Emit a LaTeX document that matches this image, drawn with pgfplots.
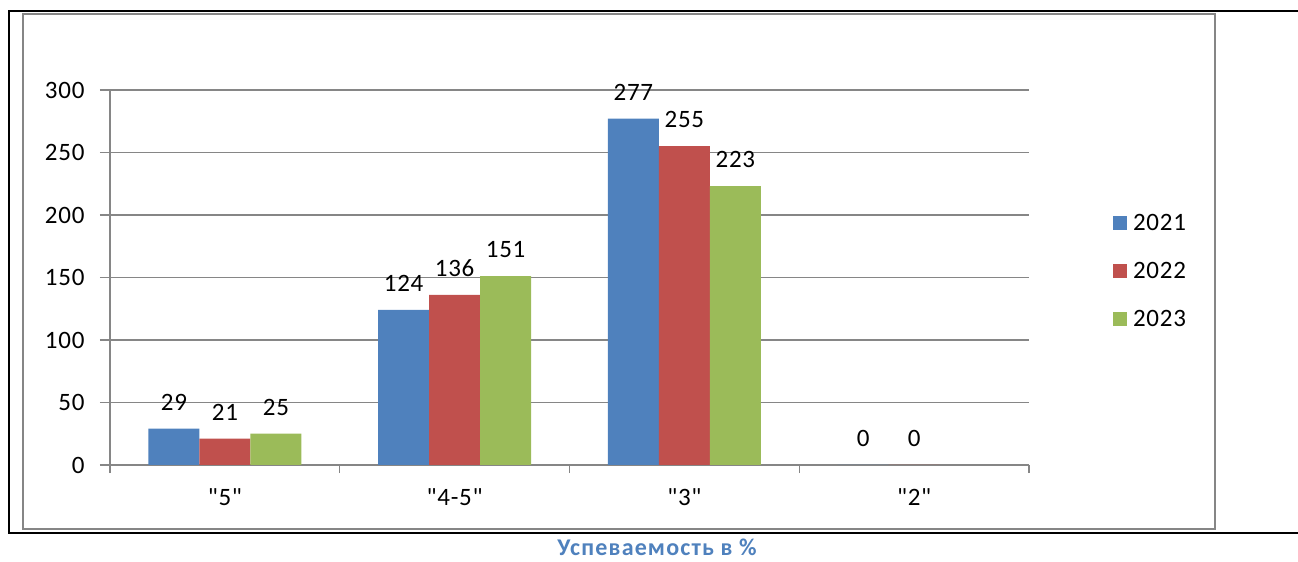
\documentclass[border=0pt]{standalone}
\usepackage{fontspec}
\setmainfont{Carlito}[Ligatures=TeXOff, LetterSpace=3]
\usepackage{pgfplots}
\pgfplotsset{compat=1.18}

\definecolor{c21}{RGB}{79,129,189}
\definecolor{c22}{RGB}{192,80,77}
\definecolor{c23}{RGB}{155,187,89}
\definecolor{axgray}{RGB}{134,134,134}

\pgfplotsset{sqleg/.style={legend image code/.code={\fill[##1] (0pt,-7pt) rectangle (14pt,7pt);}}}

\begin{document}
\begin{tikzpicture}[x=1pt,y=1pt]
\useasboundingbox (0,0) rectangle (1298,562);
% outer frame (open on the right) and grey chart area
\draw[line width=2.5pt] (1298,551) -- (9,551) -- (9,29) -- (1298,29);
\draw[axgray, line width=2pt] (23,548) rectangle (1215,33);
\begin{axis}[
  at={(110pt,97pt)}, anchor=south west,
  scale only axis, width=919pt, height=375pt,
  xmin=-0.5, xmax=3.5, ymin=0, ymax=300,
  ybar=0pt, bar width=51pt,
  axis x line=bottom, axis y line=left,
  axis line style={-, axgray, line width=1.3pt},
  ytick={0,50,...,300},
  ymajorgrids, grid style={axgray, line width=1.3pt},
  xtick={0,1,2,3},
  xticklabels={{"5"},{"4-5"},{"3"},{"2"}},
  minor xtick={-0.5,0.5,1.5,2.5,3.5},
  tick align=outside,
  major tick length=10pt, minor tick length=8pt,
  major x tick style={draw=none},
  minor x tick style={axgray, line width=1.3pt},
  major y tick style={axgray, line width=1.3pt},
  tick label style={font=\fontsize{25}{30}\selectfont, text=black},
  yticklabel style={xshift=-12pt},
  xticklabel style={yshift=-10pt},
  /pgf/number format/assume math mode=true,
  nodes near coords,
  every node near coord/.append style={font=\fontsize{25}{30}\selectfont, text=black, yshift=15pt},
  legend style={at={(1.088,0.517)}, anchor=west, draw=none, fill=none,
    font=\fontsize{25}{30}\selectfont, row sep=26pt,
    /tikz/every odd column/.append style={column sep=4pt}},
  legend cell align=left,
]
\addplot[sqleg, fill=c21, draw=none] coordinates {(0,29) (1,124) (2,277) (3,0)};
\addplot[sqleg, fill=c22, draw=none] coordinates {(0,21) (1,136) (2,255) (3,0)};
\addplot[sqleg, fill=c23, draw=none] coordinates {(0,25) (1,151) (2,223)};
\legend{2021,2022,2023}
\end{axis}
\node[inner sep=0pt, anchor=base, text depth=0pt, font=\bfseries\fontsize{24}{28}\selectfont\addfontfeatures{LetterSpace=5}, text=c21] at (657,6.5) {Успеваемость в \%};
\end{tikzpicture}
\end{document}
